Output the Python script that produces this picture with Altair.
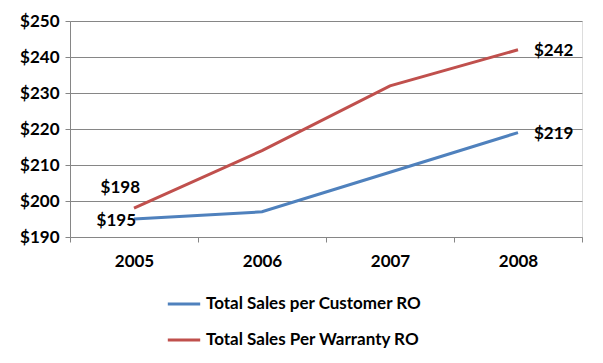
import altair as alt
import pandas as pd

years = ["2005", "2006", "2007", "2008"]
series_names = ["Total Sales per Customer RO", "Total Sales Per Warranty RO"]
customer = [195, 197, 208, 219]
warranty = [198, 214, 232, 242]
colors = ["#4F81BD", "#C0504D"]

rows = []
for name, vals in zip(series_names, [customer, warranty]):
    for y, v in zip(years, vals):
        rows.append({"year": y, "series": name, "value": v, "label": f"${v}"})
df = pd.DataFrame(rows)

FONT = "Lato"
FS = 17

x_enc = alt.X("year:O", title=None, bandPosition=0.5,
              scale=alt.Scale(type="band", paddingInner=0, paddingOuter=0),
              axis=alt.Axis(labelAngle=0, tickBand="extent", grid=False, domainColor="#868686",
                            tickColor="#868686", tickSize=5, labelFontSize=FS, labelFont=FONT,
                            labelFontWeight="bold", labelColor="#000", labelPadding=11))
y_enc = alt.Y("value:Q", title=None,
              scale=alt.Scale(domain=[190, 250], nice=False, zero=False),
              axis=alt.Axis(values=[190, 200, 210, 220, 230, 240, 250], tickCount=7,
                            labelExpr="'$' + datum.value",
                            labelOverlap=False, grid=True, gridColor="#868686", domainColor="#868686",
                            tickColor="#868686", tickSize=5, labelFontSize=FS, labelFont=FONT,
                            labelFontWeight="bold", labelColor="#000", labelPadding=6))

color_enc = alt.Color("series:N", scale=alt.Scale(domain=series_names, range=colors),
                      legend=alt.Legend(title=None, orient="none", legendX=96, legendY=265,
                                        direction="vertical", symbolType="stroke", symbolSize=1050,
                                        symbolStrokeWidth=3, labelFontSize=FS, labelFont=FONT,
                                        labelFontWeight="bold", labelColor="#000", rowPadding=10,
                                        labelOffset=4, labelLimit=400))

base = alt.Chart(df)
lines = base.mark_line(strokeWidth=3).encode(x=x_enc, y=y_enc, color=color_enc)

text_style = dict(fontSize=FS, font=FONT, fontWeight="bold", color="#000")
lab_r_2005 = base.transform_filter("datum.year == '2005' && datum.series == 'Total Sales Per Warranty RO'").mark_text(
    align="right", baseline="middle", dx=6, dy=-20, **text_style).encode(x=x_enc, y=y_enc, text="label:N")
lab_b_2005 = base.transform_filter("datum.year == '2005' && datum.series == 'Total Sales per Customer RO'").mark_text(
    align="right", baseline="middle", dx=2, dy=2, **text_style).encode(x=x_enc, y=y_enc, text="label:N")
lab_2008 = base.transform_filter("datum.year == '2008'").mark_text(
    align="left", baseline="middle", dx=16, dy=1, **text_style).encode(x=x_enc, y=y_enc, text="label:N")

chart = alt.layer(lines, lab_r_2005, lab_b_2005, lab_2008).properties(
    width=512, height=216, autosize="none",
    padding={"left": 62, "top": 13, "right": 10, "bottom": 125}
).configure_view(stroke=None).configure(background="white")

chart.save("out.html", embed_options={"renderer": "svg", "actions": False})
